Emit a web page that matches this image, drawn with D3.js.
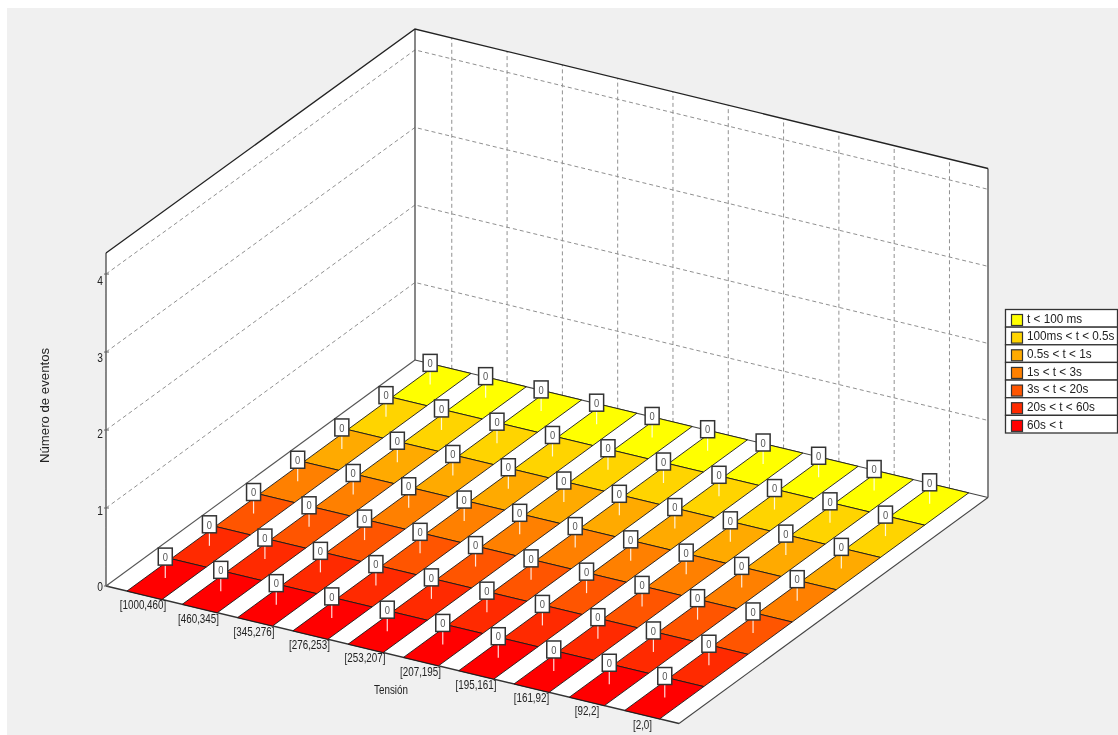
<!DOCTYPE html>
<html><head><meta charset="utf-8">
<script src="https://cdn.jsdelivr.net/npm/d3@7/dist/d3.min.js"></script>
<style>html,body{margin:0;padding:0;background:#fff;overflow:hidden}svg{display:block;filter:blur(0.35px)}text{font-family:"Liberation Sans",Arial,sans-serif}</style>
</head><body><svg id="c" width="1118" height="735"></svg>
<script>
const voltageBins = ["[1000,460]","[460,345]","[345,276]","[276,253]","[253,207]","[207,195]","[195,161]","[161,92]","[92,2]","[2,0]"];
const durationLabels = ["t < 100 ms","100ms < t < 0.5s","0.5s < t < 1s","1s < t < 3s","3s < t < 20s","20s < t < 60s","60s < t"];
const durationColors = ["#ffff00","#ffd400","#ffaa00","#ff8000","#ff5500","#ff2a00","#ff0000"];
const countsUnder100ms = [0,0,0,0,0,0,0,0,0,0];
const counts100msTo05s = [0,0,0,0,0,0,0,0,0,0];
const counts05sTo1s = [0,0,0,0,0,0,0,0,0,0];
const counts1sTo3s = [0,0,0,0,0,0,0,0,0,0];
const counts3sTo20s = [0,0,0,0,0,0,0,0,0,0];
const counts20sTo60s = [0,0,0,0,0,0,0,0,0,0];
const countsOver60s = [0,0,0,0,0,0,0,0,0,0];
const seriesCounts = [countsUnder100ms,counts100msTo05s,counts05sTo1s,counts1sTo3s,counts3sTo20s,counts20sTo60s,countsOver60s];
const valueTicks = [0,1,2,3,4];
const minorTicks = d3.range(0,4.01,0.25).filter(d=>d%1!==0);

const svg = d3.select("#c");
svg.append("rect").attr("x",7).attr("y",8).attr("width",1111).attr("height",727).attr("fill","#f0f0f0");

// oblique projection of the 3D box
const O = [106,586], VX=[573,137.5], VY=[309,-226];
const H = 333;
const xB = d3.scaleBand().domain(voltageBins).range([21/573,553.7/573]).paddingInner(1-35/55.3);
const yB = d3.scaleBand().domain(durationLabels.slice().reverse()).range([0,1]);
const zS = d3.scaleLinear().domain([0,4.27]).range([0,H]);
const P = (u,v,w=0)=>[O[0]+u*VX[0]+v*VY[0], O[1]+u*VX[1]+v*VY[1]-w*(1-0.006*v-0.006*u)];
const line = pts=>"M"+pts.map(p=>p.join(",")).join("L");
const zTop = zS.range()[1];

// walls and floor
const wall = pts=>svg.append("path").attr("d",line(pts)+"Z").attr("fill","#fff");
wall([P(0,0),P(0,1),P(0,1,zTop),P(0,0,zTop)]);
wall([P(0,1),P(1,1),P(1,1,zTop),P(0,1,zTop)]);
wall([P(0,0),P(1,0),P(1,1),P(0,1)]);

// dashed grid
const grid = svg.append("g").attr("fill","none").attr("stroke","#909090").attr("stroke-width",1).attr("stroke-dasharray","4,3");
valueTicks.filter(d=>d>0).forEach(d=>{
  const z=zS(d);
  grid.append("path").attr("d",line([P(0,0,z),P(0,1,z),P(1,1,z)]));
});
voltageBins.forEach(c=>{
  const u=xB(c)+xB.bandwidth()/2-0.003;
  grid.append("path").attr("d",line([P(u,1,0),P(u,1,zTop)]));
});

// frame
const edge=(pts,col,w)=>svg.append("path").attr("d",line(pts)).attr("fill","none").attr("stroke",col).attr("stroke-width",w);
edge([P(0,1),P(0,1,zTop)],"#555",1.4);
edge([P(1,1),P(1,1,zTop)],"#555",1.4);
edge([P(0,0),P(0,0,zTop)],"#555",1.4);
edge([P(0,0,zTop),P(0,1,zTop),P(1,1,zTop)],"#222",1.3);
edge([P(0,0),P(0,1)],"#555",1.1);
edge([P(0,1),P(1,1)],"#444",1.1);
edge([P(1,1),P(1,0)],"#444",1.1);
edge([P(0,0),P(1,0)],"#333",1.4);

// tiles, back row first
const rowsBackToFront = durationLabels.map((label,i)=>({label,color:durationColors[i],values:seriesCounts[i]}));
const tiles = svg.append("g");
rowsBackToFront.forEach(r=>{
  voltageBins.forEach(c=>{
    const u0=xB(c),u1=u0+xB.bandwidth(),v0=yB(r.label),v1=v0+yB.bandwidth();
    tiles.append("path").attr("d",line([P(u0,v0),P(u1,v0),P(u1,v1),P(u0,v1)])+"Z")
      .attr("fill",r.color).attr("stroke","#1a1a1a").attr("stroke-width",0.9);
  });
});

// value flags
const flags = svg.append("g");
rowsBackToFront.forEach(r=>{
  voltageBins.forEach((c,i)=>{
    const [px,y]=P(xB(c)+xB.bandwidth()/2,yB(r.label)+yB.bandwidth()/2,zS(r.values[i]));
    const x=px-1.3+i*0.2;
    flags.append("line").attr("x1",x).attr("x2",x).attr("y1",y-14).attr("y2",y-1).attr("stroke","#fff").attr("stroke-width",1.2).attr("opacity",.85);
    flags.append("rect").attr("x",x-7).attr("y",y-31).attr("width",14).attr("height",17).attr("fill","#fff").attr("stroke","#333").attr("stroke-width",1.5);
    flags.append("text").attr("transform",`translate(${x},${y-18.3}) scale(.85,1)`).attr("text-anchor","middle").attr("font-size",11).attr("fill","#555").text(r.values[i]);
  });
});

// y axis
const labelY = d3.scaleLinear().domain([0,4]).range([587,281]);
valueTicks.forEach(d=>{
  const [x,y]=P(0,0,zS(d));
  svg.append("line").attr("x1",x-2).attr("x2",x+3).attr("y1",y).attr("y2",y).attr("stroke","#666");
  svg.append("text").attr("transform",`translate(100,${labelY(d)+4.3}) scale(.85,1)`).attr("text-anchor","middle").attr("font-size",12).attr("fill","#222").text(d);
});
minorTicks.forEach(d=>{
  const [x,y]=P(0,0,zS(d));
  svg.append("line").attr("x1",x-1).attr("x2",x+1).attr("y1",y).attr("y2",y).attr("stroke","#888");
});
svg.append("text").attr("transform","translate(45,405.5) rotate(-90) scale(1.1,1) translate(0,4)").attr("text-anchor","middle").attr("font-size",12).attr("fill","#222").text("Número de eventos");

// x axis
voltageBins.forEach((c,i)=>{
  const [x,y]=P(xB(c)+xB.bandwidth()/2,0);
  svg.append("text").attr("transform",`translate(${x-1.5+i*0.2},${y+14}) scale(.82,1)`).attr("text-anchor","middle").attr("font-size",12).attr("fill","#222").text(c);
});
svg.append("text").attr("transform","translate(391,694) scale(.82,1)").attr("text-anchor","middle").attr("font-size",12).attr("fill","#222").text("Tensión");

// legend
const lg = svg.append("g").attr("transform","translate(1005.5,309.5)");
const rowH = d3.scaleBand().domain(durationLabels).range([0,123.5]);
durationLabels.forEach((l,i)=>{
  const y=rowH(l);
  lg.append("rect").attr("x",0).attr("y",y).attr("width",112).attr("height",rowH.bandwidth()).attr("fill","#fff").attr("stroke","#333").attr("stroke-width",1.3);
  lg.append("rect").attr("x",6).attr("y",y+5).attr("width",11).attr("height",11).attr("fill",durationColors[i]).attr("stroke","#333").attr("stroke-width",1.2);
  lg.append("text").attr("transform",`translate(21.5,${y+13.3}) scale(.94,1)`).attr("font-size",12.5).attr("fill","#222").text(l);
});
</script></body></html>
